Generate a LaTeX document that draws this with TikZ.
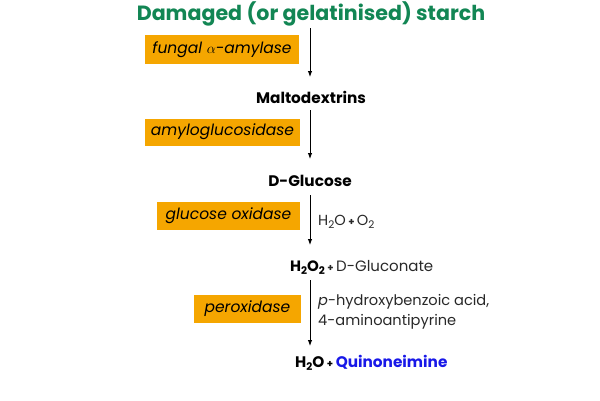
\documentclass[tikz,border=0pt]{standalone}
\usepackage{fontspec}
\setmainfont{Poppins}
\usetikzlibrary{arrows.meta}
\definecolor{boxorange}{RGB}{245,166,0}
\definecolor{titlegreen}{RGB}{18,134,84}
\definecolor{qblue}{RGB}{24,24,232}
\definecolor{txtgray}{RGB}{40,40,40}
\tikzset{
  enzyme/.style={fill=boxorange, inner sep=0pt, font=\fontsize{15.5}{18}\selectfont\itshape, text=black},
  product/.style={font=\fontsize{15.3}{18}\selectfont\bfseries, text=black, inner sep=0pt},
  sidelabel/.style={font=\fontsize{14.6}{17}\selectfont, text=txtgray, inner sep=0pt, anchor=west, align=left},
  arr/.style={line width=0.9pt, -{Latex[length=6pt,width=4.5pt]}}
}
\newcommand{\sbs}[1]{\raisebox{-0.35ex}{\fontsize{10.5}{12}\selectfont #1}}
\newcommand{\pls}{\,{\fontsize{10}{12}\selectfont\bfseries +}\,}
\begin{document}
\begin{tikzpicture}[x=1pt,y=-1pt]
\useasboundingbox (0,0) rectangle (600,400);
% products
\node[font=\fontsize{20.6}{24}\selectfont\bfseries, text=titlegreen, inner sep=0pt] (title) at (311,13.5) {Damaged (or gelatinised) starch};
\node[product] (malto) at (311,97) {Maltodextrins};
\node[product] (gluc) at (310,181) {D-Glucose};
\node[font=\fontsize{15}{18}\selectfont, text=txtgray, inner sep=0pt, anchor=west] (hperox) at (290,267) {\textcolor{black}{\bfseries H\sbs{2}O\sbs{2}}\pls D-Gluconate};
\node[font=\fontsize{15.3}{18}\selectfont\bfseries, inner sep=0pt, anchor=west] (final) at (295,363) {H\sbs{2}O\pls\textcolor{qblue}{Quinoneimine}};
% arrow end points
\coordinate (a1s) at (310,28);  \coordinate (a1e) at (310,77);
\coordinate (a2s) at (310,110); \coordinate (a2e) at (310,159);
\coordinate (a3s) at (310,195); \coordinate (a3e) at (310,245);
\coordinate (a4s) at (310,280); \coordinate (a4e) at (310,346);
\draw[arr] (a1s) -- (a1e);
\draw[arr] (a2s) -- (a2e);
\draw[arr] (a3s) -- (a3e);
\draw[arr] (a4s) -- (a4e);
% enzymes
\node[enzyme, minimum width=154pt, minimum height=29pt] (e1) at (222,49.5) {fungal $\alpha$-amylase};
\node[enzyme, minimum width=155pt, minimum height=27pt] (e2) at (222.5,132) {amyloglucosidase};
\node[enzyme, minimum width=143pt, minimum height=28pt] (e3) at (228.5,216) {glucose oxidase};
\node[enzyme, minimum width=107pt, minimum height=28pt] (e4) at (247.5,309) {peroxidase};
% side labels
\node[sidelabel] (s3) at (318,222) {H\sbs{2}O\pls O\sbs{2}};
\node[sidelabel] (s4a) at (318,302) {\textit{p}-hydroxybenzoic acid,};
\node[sidelabel] (s4b) at (318,322) {4-aminoantipyrine};
\end{tikzpicture}
\end{document}
